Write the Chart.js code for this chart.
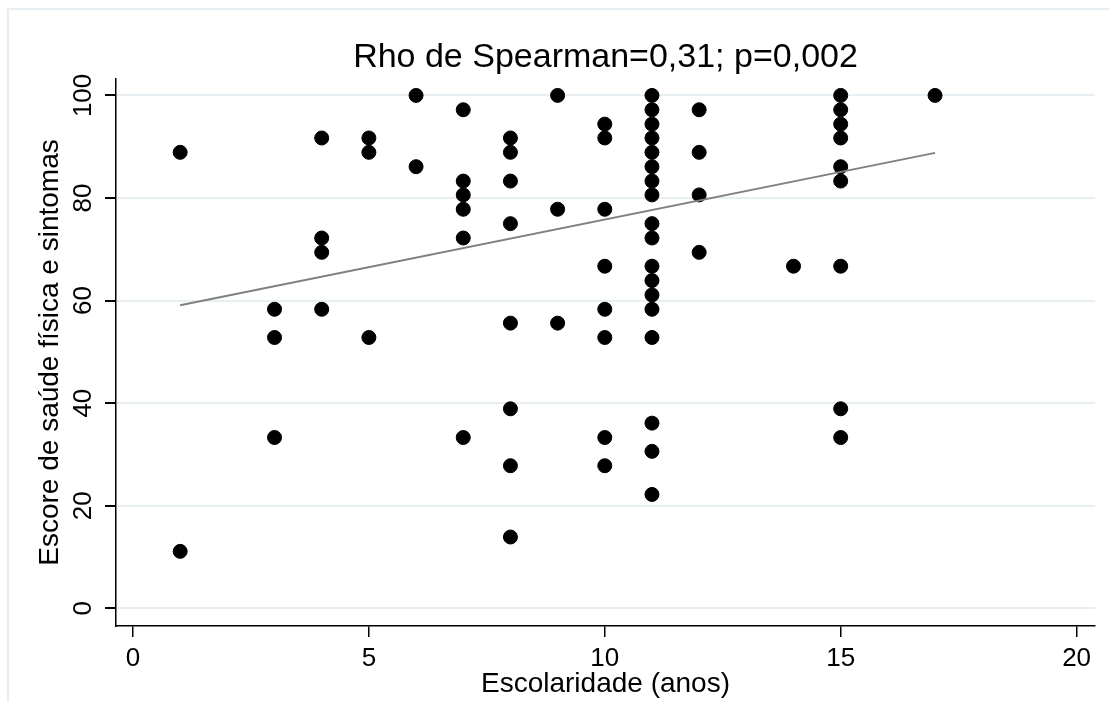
<!DOCTYPE html>
<html>
<head>
<meta charset="utf-8">
<script src="https://cdn.jsdelivr.net/npm/chart.js@4.4.1/dist/chart.umd.min.js"></script>
<style>
  body { margin: 0; background: #fff; }
  #wrap { width: 1109px; height: 702px; }
</style>
</head>
<body>
<div id="wrap"><canvas id="myChart" width="1109" height="702"></canvas></div>
<script>
// dados: escolaridade (anos) x escore
const escolaridade = [
  1, 1,
  3, 3, 3,
  4, 4, 4, 4,
  5, 5, 5,
  6, 6,
  7, 7, 7, 7, 7, 7,
  8, 8, 8, 8, 8, 8, 8, 8,
  9, 9, 9,
  10, 10, 10, 10, 10, 10, 10, 10,
  11, 11, 11, 11, 11, 11, 11, 11, 11, 11, 11, 11, 11, 11, 11, 11, 11, 11,
  12, 12, 12, 12,
  14,
  15, 15, 15, 15, 15, 15, 15, 15, 15,
  17
]
const escore = [
  88.9, 11.1,
  58.3, 52.8, 33.3,
  91.7, 72.2, 69.4, 58.3,
  91.7, 88.9, 52.8,
  100, 86.1,
  97.2, 83.3, 80.6, 77.8, 72.2, 33.3,
  91.7, 88.9, 83.3, 75.0, 55.6, 38.9, 27.8, 13.9,
  100, 77.8, 55.6,
  94.4, 91.7, 77.8, 66.7, 58.3, 52.8, 33.3, 27.8,
  100, 97.2, 94.4, 91.7, 88.9, 86.1, 83.3, 80.6, 75.0, 72.2, 66.7, 63.9, 61.1, 58.3, 52.8, 36.1, 30.6, 22.2,
  97.2, 88.9, 80.6, 69.4,
  66.7,
  100, 97.2, 94.4, 91.7, 86.1, 83.3, 66.7, 38.9, 33.3,
  100
]
// reta ajustada
const retaX = [1, 17]
const retaY = [59.1, 88.8]

const xTicks = [0, 5, 10, 15, 20]
const yTicks = [0, 20, 40, 60, 80, 100]

const titulo = 'Rho de Spearman=0,31; p=0,002'
const tituloX = 'Escolaridade (anos)'
const tituloY = 'Escore de saúde física e sintomas'

const fonte = '"Liberation Sans", Arial, Helvetica, sans-serif'

const pontos = escolaridade.map((x, i) => ({ x: x, y: escore[i] }))
const reta = retaX.map((x, i) => ({ x: x, y: retaY[i] }))

// moldura clara e fundo
const moldura = {
  id: 'moldura',
  beforeDraw(chart) {
    const ctx = chart.ctx
    ctx.save()
    ctx.fillStyle = '#fff'
    ctx.fillRect(0, 0, chart.width, chart.height)
    ctx.strokeStyle = '#e8eff2'
    ctx.lineWidth = 2
    ctx.strokeRect(8, 9, chart.width + 20, chart.height + 20)
    ctx.restore()
  }
}

// título centrado sobre a área do gráfico + rótulos do eixo y girados
const textos = {
  id: 'textos',
  afterDraw(chart) {
    const ctx = chart.ctx
    const area = chart.chartArea
    const y = chart.scales.y
    ctx.save()
    ctx.fillStyle = '#000'
    ctx.font = '34px ' + fonte
    ctx.textAlign = 'center'
    ctx.textBaseline = 'alphabetic'
    ctx.fillText(titulo, (area.left + area.right) / 2, 67)

    ctx.font = '26px ' + fonte
    ctx.textBaseline = 'middle'
    yTicks.forEach(v => {
      ctx.save()
      ctx.translate(84, y.getPixelForValue(v))
      ctx.rotate(-Math.PI / 2)
      ctx.fillText(String(v), 0, 0)
      ctx.restore()
    })
    ctx.restore()
  }
}

const ctx = document.getElementById('myChart').getContext('2d')
const char = new Chart(ctx, {
  type: 'scatter',
  data: {
    datasets: [
      {
        type: 'line',
        data: reta,
        borderColor: '#808080',
        borderWidth: 2,
        pointRadius: 0,
        fill: false,
        order: 1
      },
      {
        data: pontos,
        backgroundColor: '#000',
        borderColor: '#000',
        pointRadius: 7,
        pointHoverRadius: 7,
        order: 2
      }
    ]
  },
  options: {
    responsive: false,
    animation: false,
    layout: { padding: { left: 0, right: 14, top: 79, bottom: 0 } },
    plugins: {
      legend: { display: false },
      tooltip: { enabled: false },
      title: { display: false }
    },
    scales: {
      x: {
        type: 'linear',
        min: -0.36,
        max: 20.39,
        afterBuildTicks: s => { s.ticks = xTicks.map(v => ({ value: v })) },
        afterFit: s => { s.height = 76 },
        grid: { drawOnChartArea: false, drawTicks: true, tickLength: 11, tickColor: '#000', lineWidth: 1.5 },
        border: { color: '#000', width: 1.5 },
        ticks: { color: '#000', font: { family: fonte, size: 26 }, padding: 6, maxRotation: 0 },
        title: {
          display: true,
          text: tituloX,
          color: '#000',
          font: { family: fonte, size: 28 },
          padding: { top: 0, bottom: 1 }
        }
      },
      y: {
        type: 'linear',
        min: -3.45,
        max: 103.2,
        afterBuildTicks: s => { s.ticks = yTicks.map(v => ({ value: v })) },
        afterFit: s => { s.width = 116 },
        grid: { color: '#e8eff2', lineWidth: 2, tickLength: 11, tickColor: '#000' },
        border: { color: '#000', width: 1.5 },
        ticks: { display: false },
        title: {
          display: true,
          text: tituloY,
          color: '#000',
          font: { family: fonte, size: 28 },
          padding: { top: 33, bottom: 0 }
        }
      }
    }
  },
  plugins: [moldura, textos]
})
</script>
</body>
</html>
